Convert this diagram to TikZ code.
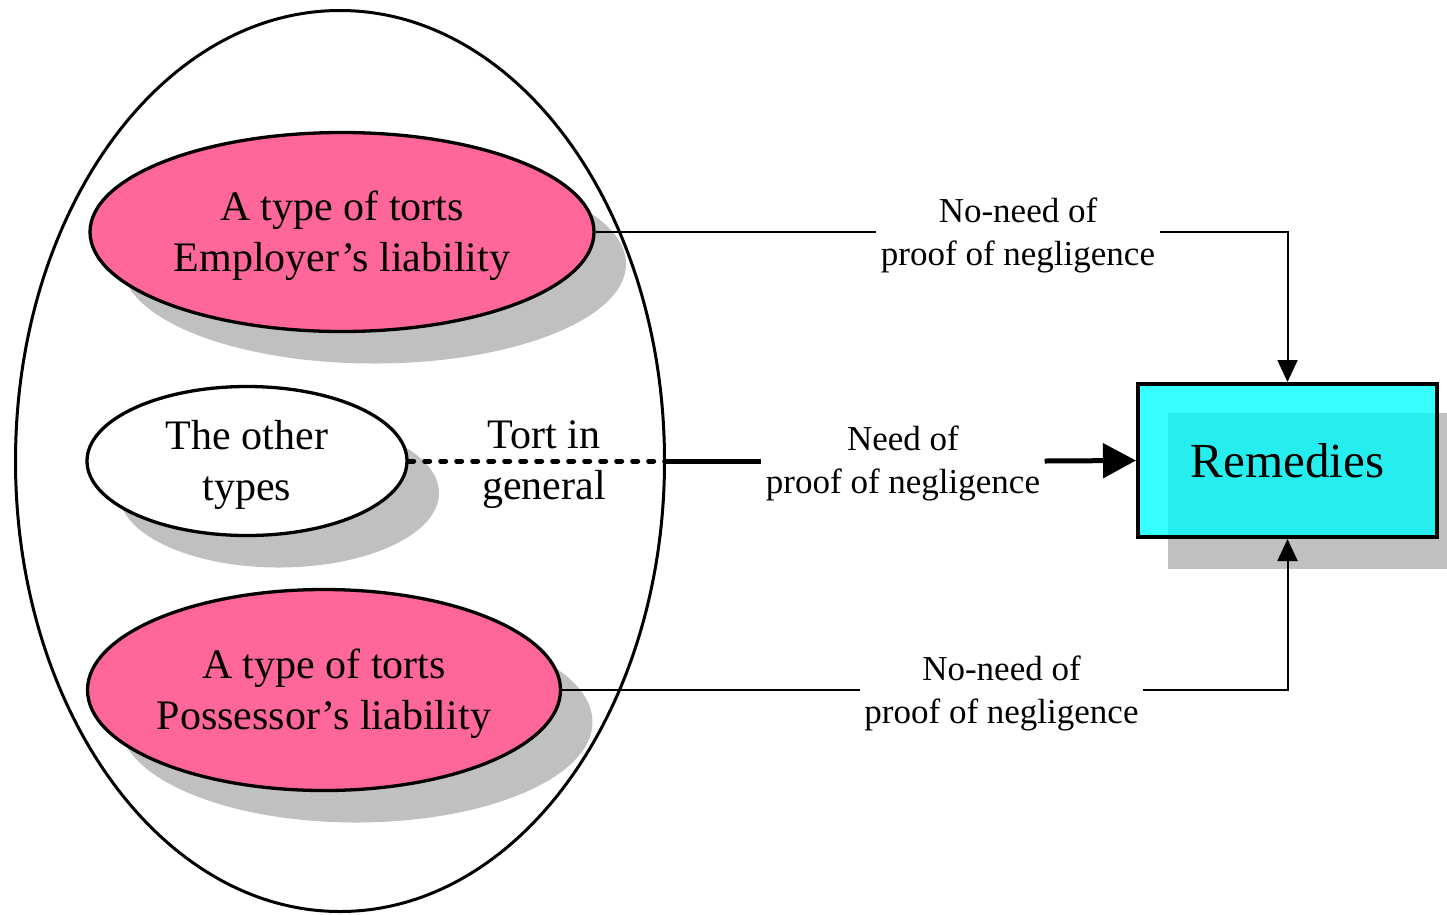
\documentclass[tikz,border=0pt]{standalone}
\usepackage{fontspec}
\setmainfont{Liberation Serif}
\usetikzlibrary{shapes.geometric,arrows.meta}
\definecolor{tortpink}{HTML}{FF6699}
\definecolor{shadowgray}{HTML}{C0C0C0}
\definecolor{remcyan}{HTML}{38FFFF}
\definecolor{remcyandark}{HTML}{26EEEE}

\begin{document}
\begin{tikzpicture}[x=1pt,y=-1pt,
  oval/.style={ellipse,draw=black,line width=3.3pt,inner sep=0pt},
  ovaltext/.style={align=center,inner sep=0pt,font=\fontsize{42}{51}\selectfont},
  ovalshadow/.style={ellipse,fill=shadowgray,inner sep=0pt},
  lbl/.style={align=center,font=\fontsize{35}{43}\selectfont,fill=white,inner sep=4.5pt},
  link/.style={line width=2pt},
  thinhead/.style={-{Triangle[length=22pt,width=20pt]}},
  boldlink/.style={line width=5pt},
  dotlink/.style={line width=5pt,line cap=round,dash pattern=on 5pt off 11pt},
]
\useasboundingbox (0,0) rectangle (1447,914);
\fill[white] (0,0) rectangle (1447,914);

% shadows
\node[ovalshadow,minimum width=504pt,minimum height=199pt] (empS) at (374,264) {};
\node[ovalshadow,minimum width=320pt,minimum height=149pt] (otherS) at (279,493) {};
\node[ovalshadow,minimum width=473pt,minimum height=201pt] (posS) at (356,722) {};
\fill[shadowgray] (1168,413) rectangle (1467,569);

% enclosing oval
\node[ellipse,draw=black,line width=3pt,inner sep=0pt,
  minimum width=649pt,minimum height=901pt] (outer) at (340,461) {};

% tort types
\node[oval,fill=tortpink,minimum width=504pt,minimum height=199pt] (emp) at (342,232) {};
\node[oval,fill=white,minimum width=320pt,minimum height=149pt] (other) at (247,461) {};
\node[oval,fill=tortpink,minimum width=473pt,minimum height=201pt] (pos) at (324,690) {};
\node[ovaltext] (empT) at (342,236) {A type of torts\\Employer’s liability};
\node[ovaltext] (otherT) at (247,465) {The other\\types};
\node[ovaltext] (posT) at (324,694) {A type of torts\\Possessor’s liability};

\node[ovaltext] (gen) at (544,465) {Tort in\\general};

% remedies box
\fill[remcyan] (1138,384) rectangle (1437,537);
\fill[remcyandark] (1168,413) rectangle (1437,537);
\node[draw=black,line width=4pt,minimum width=299pt,minimum height=153pt,
  font=\fontsize{49}{58}\selectfont] (rem) at (1287.5,460.5) {Remedies};

% connector labels
\node[lbl] (nn1) at (1018,235) {No-need of\\proof of negligence};
\node[lbl] (need) at (903,463) {Need of\\proof of negligence};
\node[lbl] (nn2) at (1001.5,693) {No-need of\\proof of negligence};

% connectors
\draw[link] (emp.east) -- (emp.east -| nn1.west);
\draw[link,thinhead] (emp.east -| nn1.east) -| (rem.north);
\draw[link] (pos.east) -- (pos.east -| nn2.west);
\draw[link,thinhead] (pos.east -| nn2.east) -| (rem.south);
\draw[dotlink] (other.east) -- ([xshift=30pt]outer.east);
\draw[boldlink] (outer.east) -- (outer.east -| need.west);
\draw[boldlink,-{Triangle[length=33pt,width=34pt]}] (outer.east -| need.east) -- (rem.west);
\end{tikzpicture}
\end{document}
